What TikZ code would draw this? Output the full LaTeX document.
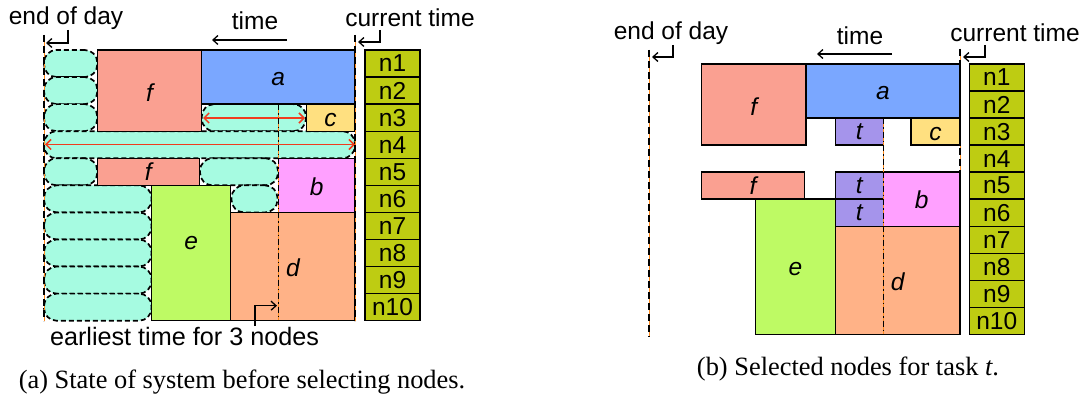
\documentclass[tikz,border=0pt]{standalone}
\usepackage{fontspec}
\setmainfont{Liberation Serif}
\setsansfont{Liberation Sans}
\usetikzlibrary{fit,arrows.meta}
\definecolor{pillc}{RGB}{166,251,225}
\definecolor{fc}{RGB}{250,160,145}
\definecolor{ac}{RGB}{122,167,255}
\definecolor{cc}{RGB}{255,224,128}
\definecolor{bc}{RGB}{255,160,255}
\definecolor{ec}{RGB}{190,250,100}
\definecolor{dc}{RGB}{255,178,135}
\definecolor{tc}{RGB}{165,148,235}
\definecolor{nc}{RGB}{190,204,18}
\definecolor{redc}{RGB}{240,60,30}
\definecolor{orc}{RGB}{255,140,30}
\newcommand\cellbox[7]{\node[#6, fit={(#2,#3) (#4,#5)}] (#1) {#7};}
\begin{document}
\begin{tikzpicture}[x=1pt,y=-1pt,
  box/.style={draw=black, line width=1.3pt, inner sep=0pt, outer sep=0pt},
  pill/.style={draw=black, line width=1.7pt, dash pattern=on 5pt off 3pt, fill=pillc, rounded corners=12.5pt, inner sep=0pt, outer sep=0pt},
  ncell/.style={draw=black, line width=1.3pt, fill=nc, inner sep=0pt, outer sep=0pt},
  lbl/.style={inner sep=0pt, font=\sffamily\fontsize{24.5}{24.5}\selectfont},
  ilbl/.style={inner sep=0pt, font=\sffamily\itshape\fontsize{24.5}{24.5}\selectfont},
  captext/.style={inner sep=0pt, font=\rmfamily\fontsize{26.4}{26.4}\selectfont},
  hook/.style={draw=black, line width=1.3pt, -{Straight Barb[length=5pt,width=9pt]}},
  darr/.style={draw=redc, line width=1.5pt, {Straight Barb[length=5pt,width=10pt]}-{Straight Barb[length=5pt,width=10pt]}},
  orline/.style={draw=orc, line width=1pt},
  blkdash/.style={draw=black, line width=1.8pt, dash pattern=on 7pt off 4pt},
  blkdashdot/.style={draw=black, line width=1.1pt, dash pattern=on 6pt off 3pt on 1.5pt off 3pt}
]
\useasboundingbox (0,0) rectangle (1085,401);

% ================= LEFT PANEL =================
\coordinate (curLt) at (355,35); \coordinate (curLb) at (355,321);
% pills
\cellbox{pA1}{44}{50}{97.3}{77.07}{pill}{}
\cellbox{pA2}{44}{77.07}{97.3}{104.14}{pill}{}
\cellbox{pA3}{44}{104.14}{97.3}{131.21}{pill}{}
\cellbox{pM3}{201.7}{104.14}{306}{131.21}{pill}{}
\cellbox{pR4}{44}{131.21}{355}{158.28}{pill}{}
\cellbox{pA5}{44}{158.28}{97.3}{185.35}{pill}{}
\cellbox{pM5}{200}{158.28}{278}{185.35}{pill}{}
\cellbox{pA6}{44}{185.35}{151.5}{212.42}{pill}{}
\cellbox{pM6}{231.5}{185.35}{277.5}{212.42}{pill}{}
\cellbox{pA7}{44}{212.42}{151.5}{239.49}{pill}{}
\cellbox{pA8}{44}{239.49}{151.5}{266.56}{pill}{}
\cellbox{pA9}{44}{266.56}{151.5}{293.63}{pill}{}
\cellbox{pA10}{44}{293.63}{151.5}{320.7}{pill}{}
% task boxes
\cellbox{fL1}{97.3}{50}{201.7}{131.21}{box,fill=fc}{}
\cellbox{aL}{201.7}{50}{354.5}{104.14}{box,fill=ac}{}
\cellbox{cL}{306.7}{104.14}{354.5}{131.21}{box,fill=cc}{}
\cellbox{fL2}{97.3}{158.28}{199.5}{185.35}{box,fill=fc}{}
\cellbox{bL}{278.3}{158.28}{355}{212.42}{box,fill=bc}{}
\cellbox{eL}{151.5}{185.35}{230.7}{320.7}{box,fill=ec}{}
\cellbox{dL}{230.7}{212.42}{355}{320.7}{box,fill=dc}{}
\node[ilbl] (fL1t) at ([yshift=-2pt]fL1.center) {f};
\node[ilbl] (aLt) at ([yshift=-2pt]aL.center) {a};
\node[ilbl] (cLt) at ([yshift=-2pt]cL.center) {c};
\node[ilbl] (fL2t) at (fL2.center) {f};
\node[ilbl] (bLt) at ([yshift=-1pt]bL.center) {b};
\node[ilbl] (eLt) at ([yshift=10pt]eL.center) {e};
\node[ilbl] (dLt) at ([yshift=-1pt]dL.center) {d};
% node column
\foreach \i/\ya/\yb in {1/50/77.07,2/77.07/104.14,3/104.14/131.21,4/131.21/158.28,5/158.28/185.35,6/185.35/212.42,7/212.42/239.49,8/239.49/266.56,9/266.56/293.63,10/293.63/320.7}{
  \node[ncell, fit={(365,\ya) (420,\yb)}] (nL\i) {};
  \node[lbl] (nL\i t) at (nL\i.center) {n\i};
}
% red double arrows
\coordinate (r3a) at (203,118); \coordinate (r3b) at (305,118);
\coordinate (r4a) at (45,144.5); \coordinate (r4b) at (355,144.5);
\draw[darr] (r3a) -- (r3b);
\draw[darr] (r4a) -- (r4b);
% end of day and current time lines (left)
\coordinate (eodLt) at (44,35); \coordinate (eodLb) at (44,321);
\draw[orline] (eodLt) -- (eodLb);
\draw[blkdash] (eodLt) -- (eodLb);
\draw[orline] (curLt) -- (curLb);
\draw[blkdash] (curLt) -- (curLb);
% earliest time dash-dot line
\coordinate (etLt) at (278.3,104.14); \coordinate (etLb) at (278.3,320.7);
\draw[orline] (etLt) -- (etLb);
\draw[blkdashdot] (etLt) -- (etLb);
% labels and hooks
\node[lbl] (eodLlab) at (66,18) {end of day};
\node[lbl] (curLlab) at (410,18) {current time};
\node[lbl] (timeL) at (255,21) {time};
\coordinate (tLa) at (287,40); \coordinate (tLb) at (212,40);
\draw[hook] (tLa) -- (tLb);
\coordinate (hLe1) at (68,30); \coordinate (hLe2) at (46,43);
\draw[hook] (hLe1) |- (hLe2);
\coordinate (hLc1) at (380,30); \coordinate (hLc2) at (358,42);
\draw[hook] (hLc1) |- (hLc2);
\node[lbl, font=\sffamily\fontsize{25.2}{25.2}\selectfont] (earl) at (184.5,336) {earliest time for 3 nodes};
\coordinate (hEt1) at (255,326); \coordinate (hEt2) at (277,305.7);
\draw[hook] (hEt1) |- (hEt2);
\node[captext] (capa) at (242,382) {(a) State of system before selecting nodes.};

% ================= RIGHT PANEL =================
\coordinate (curRt) at (960,49); \coordinate (curRb) at (960,334.3);
\draw[orline] (curRt) -- (curRb);
\draw[blkdash] (curRt) -- (curRb);
\cellbox{fR1}{701.7}{64}{806}{145.09}{box,fill=fc}{}
\cellbox{aR}{806}{64}{960}{118.06}{box,fill=ac}{}
\cellbox{tR1}{835.3}{118.06}{883.3}{145.09}{box,fill=tc}{}
\cellbox{cR}{911}{118.06}{960}{145.09}{box,fill=cc}{}
\cellbox{fR2}{701.7}{172.12}{804.3}{199.15}{box,fill=fc}{}
\cellbox{tR2}{835.3}{172.12}{883.3}{199.15}{box,fill=tc}{}
\cellbox{bR}{883.3}{172.12}{960}{226.18}{box,fill=bc}{}
\cellbox{tR3}{835.3}{199.15}{883.3}{226.18}{box,fill=tc}{}
\cellbox{eR}{755.7}{199.15}{835.3}{334.3}{box,fill=ec}{}
\cellbox{dR}{835.3}{226.18}{960}{334.3}{box,fill=dc}{}
\node[ilbl] (fR1t) at ([yshift=-2pt]fR1.center) {f};
\node[ilbl] (aRt) at ([yshift=-2pt]aR.center) {a};
\node[ilbl] (tR1t) at (tR1.center) {t};
\node[ilbl] (cRt) at ([yshift=-2pt]cR.center) {c};
\node[ilbl] (fR2t) at (fR2.center) {f};
\node[ilbl] (tR2t) at (tR2.center) {t};
\node[ilbl] (bRt) at ([yshift=-1pt]bR.center) {b};
\node[ilbl] (tR3t) at (tR3.center) {t};
\node[ilbl] (eRt) at ([yshift=-2pt]eR.center) {e};
\node[ilbl] (dRt) at ([yshift=-2pt]dR.center) {d};
\foreach \i/\ya/\yb in {1/64/91.03,2/91.03/118.06,3/118.06/145.09,4/145.09/172.12,5/172.12/199.15,6/199.15/226.18,7/226.18/253.21,8/253.21/280.24,9/280.24/307.27,10/307.27/334.3}{
  \node[ncell, fit={(969.3,\ya) (1024.3,\yb)}] (nR\i) {};
  \node[lbl] (nR\i t) at (nR\i.center) {n\i};
}
\coordinate (eodRt) at (649.3,50); \coordinate (eodRb) at (649.3,336.7);
\draw[orline] (eodRt) -- (eodRb);
\draw[blkdash] (eodRt) -- (eodRb);
\coordinate (etRt) at (883.3,118.06); \coordinate (etRb) at (883.3,334.3);
\draw[orline] (etRt) -- (etRb);
\draw[blkdashdot] (etRt) -- (etRb);
\node[lbl] (eodRlab) at (671,33) {end of day};
\node[lbl] (curRlab) at (1015,33) {current time};
\node[lbl] (timeR) at (860,36) {time};
\coordinate (tRa) at (892,54); \coordinate (tRb) at (817,54);
\draw[hook] (tRa) -- (tRb);
\coordinate (hRe1) at (673,45); \coordinate (hRe2) at (652,57);
\draw[hook] (hRe1) |- (hRe2);
\coordinate (hRc1) at (985,45); \coordinate (hRc2) at (963,57);
\draw[hook] (hRc1) |- (hRc2);
\node[captext] (capb) at (848,369) {(b) Selected nodes for task \textit{t}.};
\end{tikzpicture}
\end{document}
